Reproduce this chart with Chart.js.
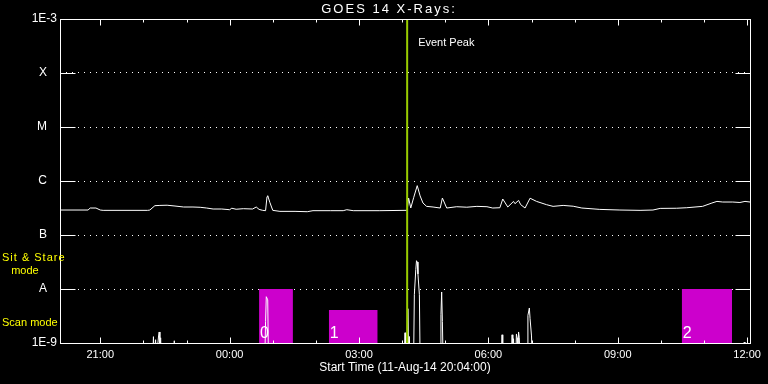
<!DOCTYPE html>
<html>
<head>
<meta charset="utf-8">
<title>GOES 14 X-Rays</title>
<script src="https://cdn.jsdelivr.net/npm/chart.js@4.4.1/dist/chart.umd.min.js"></script>
<style>
  html, body { margin: 0; padding: 0; background: #000; }
  canvas { display: block; }
</style>
</head>
<body>
<canvas id="goes" width="768" height="384"></canvas>
<script>
// GOES 14 X-ray flux, clock times in UT, plot starts 11-Aug-14 20:04

var chartTitle = 'GOES 14 X-Rays:';
var startTime = '20:04';
var eventPeak = '04:07';

var xTickLabels = ['21:00', '00:00', '03:00', '06:00', '09:00', '12:00'];
var hourTicks = ['21:00', '22:00', '23:00', '00:00', '01:00', '02:00', '03:00', '04:00',
  '05:00', '06:00', '07:00', '08:00', '09:00', '10:00', '11:00', '12:00'];

var yTickValues = [1e-9, 1e-8, 1e-7, 1e-6, 1e-5, 1e-4, 1e-3];
var yTickLabels = ['1E-9', 'A', 'B', 'C', 'M', 'X', '1E-3'];

// long channel (upper curve)
var longTimes = [
  '20:04', '20:43', '20:46', '20:54', '21:00', '21:04', '22:06', '22:09', '22:16', '22:23',
  '22:33', '22:44', '22:56', '23:09', '23:19', '23:28', '23:37', '23:49', '00:00', '00:03',
  '00:09', '00:19', '00:32', '00:37', '00:41', '00:46', '00:50', '00:52', '00:53', '00:56',
  '01:00', '01:10', '01:31', '01:48', '01:56', '02:20', '02:38', '02:43', '02:52', '03:29',
  '04:04', '04:07', '04:09', '04:12', '04:16', '04:21', '04:25', '04:29', '04:34', '04:43',
  '04:53', '04:56', '05:02', '05:16', '05:30', '05:44', '05:58', '06:06', '06:16', '06:20',
  '06:27', '06:35', '06:37', '06:42', '06:45', '06:51', '06:58', '07:07', '07:21', '07:30',
  '07:44', '07:58', '08:10', '08:35', '09:03', '09:31', '09:49', '09:59', '10:22', '10:36',
  '10:58', '11:11', '11:18', '11:26', '11:40', '11:50', '11:57', '12:04'
];
var longFlux = [
  2.9e-7, 2.9e-7, 3.16e-7, 3.16e-7, 2.9e-7, 2.86e-7, 2.86e-7, 2.9e-7, 3.49e-7, 3.53e-7,
  3.56e-7, 3.44e-7, 3.3e-7, 3.3e-7, 3.26e-7, 3.16e-7, 3.03e-7, 3.03e-7, 2.94e-7, 3.13e-7,
  3.0e-7, 3.07e-7, 3.03e-7, 3.3e-7, 2.98e-7, 2.86e-7, 2.82e-7, 5.12e-7, 5.34e-7, 4.0e-7,
  2.86e-7, 2.74e-7, 2.74e-7, 2.7e-7, 2.82e-7, 2.82e-7, 2.82e-7, 2.94e-7, 2.82e-7, 2.82e-7,
  2.86e-7, 2.86e-7, 4.84e-7, 3.16e-7, 4.9e-7, 8.2e-7, 5.3e-7, 3.91e-7, 3.39e-7, 3.3e-7,
  3.16e-7, 4.84e-7, 3.16e-7, 3.34e-7, 3.27e-7, 3.39e-7, 3.34e-7, 3.16e-7, 3.2e-7, 4.64e-7,
  3.3e-7, 4.19e-7, 3.8e-7, 4.37e-7, 3.64e-7, 3.16e-7, 4.8e-7, 4.19e-7, 3.64e-7, 3.39e-7,
  3.53e-7, 3.41e-7, 3.16e-7, 2.98e-7, 2.9e-7, 2.86e-7, 2.9e-7, 3.11e-7, 3.13e-7, 3.2e-7,
  3.39e-7, 3.91e-7, 4.19e-7, 4.08e-7, 4.08e-7, 4.0e-7, 4.19e-7, 4.08e-7
];

// short channel (lower curve), mostly under the 1E-9 floor
var shortTimes = [
  '20:04', '22:13', '22:14', '22:15', '22:17', '22:18', '22:21', '22:22', '22:23', '22:24',
  '22:25', '22:42', '22:43', '22:44', '00:49', '00:50', '00:51', '00:53', '00:54', '04:03',
  '04:04', '04:05', '04:07', '04:08', '04:09', '04:10', '04:11', '04:16', '04:17', '04:19',
  '04:20', '04:21', '04:22', '04:24', '04:25', '04:53', '04:54', '04:55', '04:56', '04:57',
  '06:18', '06:19', '06:20', '06:32', '06:33', '06:34', '06:35', '06:36', '06:38', '06:39',
  '06:40', '06:41', '06:42', '06:43', '06:44', '06:54', '06:55', '06:57', '06:58', '07:00',
  '07:01', '11:55', '11:56', '11:57', '12:04'
];
var shortFlux = [
  5e-10, 5e-10, 1.31e-9, 5e-10, 1.15e-9, 5e-10, 1.29e-9, 1.6e-9, 5e-10, 1.25e-9,
  5e-10, 5e-10, 1.1e-9, 5e-10, 5e-10, 2.48e-9, 7.2e-9, 6.3e-9, 5e-10, 5e-10,
  1.55e-9, 5e-10, 5e-10, 4.32e-9, 5e-10, 1.32e-9, 5e-10, 5e-10, 7.84e-9, 2.28e-8,
  3.34e-8, 3.16e-8, 1.9e-8, 7.84e-9, 5e-10, 5e-10, 3.34e-9, 8.8e-9, 2.51e-9, 5e-10,
  5e-10, 1.42e-9, 5e-10, 5e-10, 1.42e-9, 5e-10, 1.2e-9, 5e-10, 5e-10, 1.47e-9,
  1.25e-9, 5e-10, 1.6e-9, 1.25e-9, 5e-10, 5e-10, 3.24e-9, 4.45e-9, 2.82e-9, 1.35e-9,
  5e-10, 5e-10, 1.04e-9, 5e-10, 5e-10
];

// scan blocks (magenta)
var scanStart = ['00:41', '02:18', '10:29'];
var scanEnd = ['01:28', '03:26', '11:39'];
var scanLevel = [1e-8, 4.1e-9, 1e-8];
var scanLabels = ['0', '1', '2'];

var toMinutes = function(clock) {
  var p = clock.split(':');
  var s = startTime.split(':');
  var m = parseInt(p[0], 10) * 60 + parseInt(p[1], 10);
  var start = parseInt(s[0], 10) * 60 + parseInt(s[1], 10);
  return m < start ? m + 1440 - start : m - start;
};

var toPoints = function(times, values) {
  return times.map(function(t, i) {
    return { x: toMinutes(t), y: values[i] };
  });
};

var datasets = [
  {
    data: [{ x: toMinutes(eventPeak), y: yTickValues[0] },
           { x: toMinutes(eventPeak), y: yTickValues[yTickValues.length - 1] }],
    borderColor: '#99cc00',
    borderWidth: 2
  },
  { data: toPoints(longTimes, longFlux), borderColor: '#ffffff', borderWidth: 1 },
  { data: toPoints(shortTimes, shortFlux), borderColor: '#ffffff', borderWidth: 1 }
];
scanStart.forEach(function(s, i) {
  datasets.push({
    data: [{ x: toMinutes(s), y: scanLevel[i] }, { x: toMinutes(scanEnd[i]), y: scanLevel[i] }],
    borderWidth: 0,
    borderColor: 'rgba(0,0,0,0)',
    backgroundColor: '#cc00cc',
    fill: 'start'
  });
});

// frame, inward ticks and the text notes
var framePlugin = {
  id: 'frame',
  afterDatasetsDraw: function(chart) {
    var ctx = chart.ctx, area = chart.chartArea;
    var xs = chart.scales.x, ys = chart.scales.y;
    var left = Math.round(area.left) + 0.5, right = Math.round(area.right) + 0.5;
    var top = Math.round(area.top) + 0.5, bottom = Math.round(area.bottom) + 0.5;
    ctx.save();
    ctx.strokeStyle = '#ffffff';
    ctx.lineWidth = 1;
    ctx.strokeRect(left, top, right - left, bottom - top);
    ctx.beginPath();
    hourTicks.forEach(function(h) {
      var px = Math.round(xs.getPixelForValue(toMinutes(h))) + 0.5;
      var len = xTickLabels.indexOf(h) >= 0 ? 6 : 3;
      ctx.moveTo(px, bottom); ctx.lineTo(px, bottom - len);
      ctx.moveTo(px, top); ctx.lineTo(px, top + len);
    });
    yTickValues.slice(1, -1).forEach(function(v) {
      var py = Math.round(ys.getPixelForValue(v)) + 0.5;
      ctx.moveTo(left, py); ctx.lineTo(left + 15, py);
      ctx.moveTo(right - 15, py); ctx.lineTo(right, py);
    });
    ctx.stroke();

    ctx.fillStyle = '#ffffff';
    ctx.textBaseline = 'middle';

    // title, spaced out like the old vector font
    ctx.textAlign = 'center';
    ctx.font = '13px "Liberation Sans"';
    ctx.letterSpacing = '2px';
    ctx.fillText(chartTitle, 389, 9.5);
    ctx.letterSpacing = '0px';
    ctx.textAlign = 'left';

    ctx.font = '11px "Liberation Sans"';
    ctx.fillText('Event Peak', xs.getPixelForValue(toMinutes(eventPeak)) + 11, ys.getPixelForValue(3.6e-4));

    ctx.font = '16px "Liberation Sans"';
    ctx.textBaseline = 'alphabetic';
    scanLabels.forEach(function(l, i) {
      ctx.fillText(l, xs.getPixelForValue(toMinutes(scanStart[i])) + 1, ys.getPixelForValue(1.25e-9));
    });

    ctx.fillStyle = '#ffff00';
    ctx.font = '11px "Liberation Sans"';
    ctx.textBaseline = 'middle';
    ctx.letterSpacing = '1px';
    ctx.fillText('Sit & Stare', 2, ys.getPixelForValue(3.7e-8));
    ctx.letterSpacing = '0px';
    ctx.fillText('   mode', 2, ys.getPixelForValue(2.16e-8));
    ctx.fillText('Scan mode', 2, ys.getPixelForValue(2.32e-9));
    ctx.restore();
  }
};

Chart.defaults.font.family = '"Liberation Sans", Arial, sans-serif';
Chart.defaults.font.size = 11;
Chart.defaults.color = '#ffffff';

new Chart(document.getElementById('goes'), {
  type: 'line',
  data: { datasets: datasets },
  plugins: [framePlugin],
  options: {
    responsive: false,
    animation: false,
    devicePixelRatio: 1,
    layout: { padding: { left: 0, right: 18, top: 19, bottom: 0 } },
    elements: { point: { radius: 0 }, line: { tension: 0 } },
    plugins: {
      legend: { display: false },
      tooltip: { enabled: false },
      title: { display: false }
    },
    scales: {
      x: {
        type: 'linear',
        min: 0,
        max: toMinutes('12:04'),
        afterBuildTicks: function(scale) {
          scale.ticks = xTickLabels.map(function(l) { return { value: toMinutes(l) }; });
        },
        afterFit: function(scale) { scale.height = 41; },
        ticks: {
          color: '#ffffff',
          autoSkip: false,
          maxRotation: 0,
          padding: 5,
          callback: function(v, i) { return xTickLabels[i]; }
        },
        grid: { display: false, drawTicks: false },
        border: { display: false },
        title: {
          display: true,
          text: 'Start Time (11-Aug-14 20:04:00)',
          color: '#ffffff',
          font: { size: 12 },
          padding: { top: 0, bottom: 9 }
        }
      },
      y: {
        type: 'logarithmic',
        min: yTickValues[0],
        max: yTickValues[yTickValues.length - 1],
        afterBuildTicks: function(scale) {
          scale.ticks = yTickValues.map(function(v) { return { value: v }; });
        },
        afterFit: function(scale) { scale.width = 60; },
        ticks: {
          color: '#ffffff',
          autoSkip: false,
          padding: 3,
          font: { size: 12 },
          callback: function(v, i) {
            var l = yTickLabels[i];
            return l.length == 1 ? l + '   ' : l;
          }
        },
        grid: {
          drawTicks: false,
          color: function(c) {
            return (c.index == 0 || c.index == yTickValues.length - 1) ? 'rgba(0,0,0,0)' : '#ffffff';
          }
        },
        border: { display: false, dash: [1, 5] }
      }
    }
  }
});
</script>
</body>
</html>
